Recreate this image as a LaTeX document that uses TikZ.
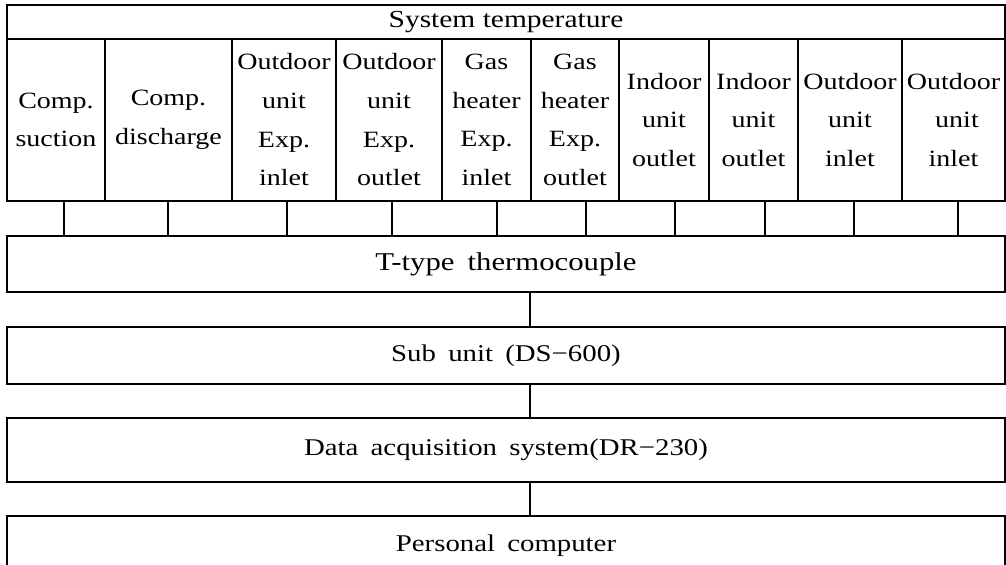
\documentclass[tikz,border=0pt]{standalone}
\usepackage{fontspec}
\setmainfont[FakeStretch=1.2]{Liberation Serif}
\newfontfamily\boxfont[FakeStretch=1.2,WordSpace=1.7]{Liberation Serif}
% \panel{style}{name}{x1}{y1}{x2}{y2}{text}: framed box given by its corners (px)
\newcommand\panel[7]{%
  \node[#1,minimum width={(#5-#3)*0.75pt},minimum height={(#6-#4)*0.75pt}]
    (#2) at ({(#3+#5)/2},{(#4+#6)/2}) {#7};}
\begin{document}
\begin{tikzpicture}[x=0.75pt,y=-0.75pt,
  frame/.style={draw,line width=1.9pt,inner sep=0pt,align=center},
  cell/.style={frame,font=\fontsize{17.5}{29}\selectfont},
  heading/.style={frame,font=\fontsize{18.4}{22}\selectfont},
  stage/.style={frame,font=\boxfont\fontsize{18}{22}\selectfont},
  bigstage/.style={frame,font=\boxfont\fontsize{19.2}{22}\selectfont},
  wire/.style={line width=1.9pt}]
\clip (0,0) rectangle (1006,564);
\useasboundingbox (0,0) rectangle (1006,564);

% header row
\panel{heading}{title}{7}{5}{1005}{39}{System temperature}

% measuring points
\panel{cell}{c1}{7}{39}{105}{201}{Comp.\\suction}
\panel{cell}{c2}{105}{39}{232}{201}{Comp.\\discharge}
\panel{cell}{c3}{232}{39}{336}{201}{Outdoor\\unit\\Exp.\\inlet}
\panel{cell}{c4}{336}{39}{442}{201}{Outdoor\\unit\\Exp.\\outlet}
\panel{cell}{c5}{442}{39}{531}{201}{Gas\\heater\\Exp.\\inlet}
\panel{cell}{c6}{531}{39}{619}{201}{Gas\\heater\\Exp.\\outlet}
\panel{cell}{c7}{619}{39}{709}{201}{Indoor\\unit\\outlet}
\panel{cell}{c8}{709}{39}{798}{201}{Indoor\\unit\\outlet}
\panel{cell}{c9}{798}{39}{902}{201}{Outdoor\\unit\\inlet}
\panel{cell}{c10}{902}{39}{1005}{201}{Outdoor\\\ unit\\inlet}

% signal chain
\panel{bigstage}{tc}{7}{236}{1005}{292}{T-type thermocouple}
\panel{stage}{su}{7}{327}{1005}{384}{Sub unit (DS−600)}
\panel{stage}{da}{7}{418}{1005}{482}{Data acquisition system(DR−230)}
\panel{stage}{pc}{7}{516}{1005}{576}{Personal computer}

% thermocouple leads
\foreach \n/\x in {1/64,2/168,3/287,4/392,5/497,6/586,7/675,8/765,9/854,10/958}{
  \coordinate (s\n) at (\x,0);
  \draw[wire] (s\n |- c\n.south) -- (s\n |- tc.north);
}

% links between stages
\coordinate (bus) at (530,0);
\draw[wire] (bus |- tc.south) -- (bus |- su.north);
\draw[wire] (bus |- su.south) -- (bus |- da.north);
\draw[wire] (bus |- da.south) -- (bus |- pc.north);
\end{tikzpicture}
\end{document}
